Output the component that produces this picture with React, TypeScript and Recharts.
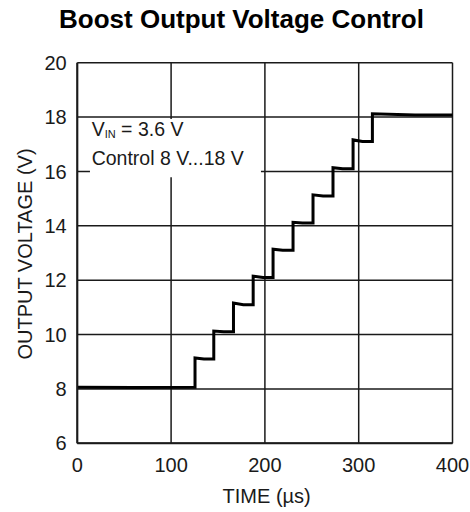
import React from "react";
import {
  LineChart,
  Line,
  XAxis,
  YAxis,
  CartesianGrid,
  ReferenceArea,
} from "recharts";

const timeUs = [
  0, 60, 125.5, 125.5, 135, 145.5, 145.5, 156, 166.5, 166.5, 177, 187.5, 187.5,
  198, 208.7, 208.7, 219, 230, 230, 240, 251.3, 251.3, 262, 272.6, 272.6, 283,
  294, 294, 304, 314.6, 314.6, 360, 400,
];
const outputV = [
  8.06, 8.05, 8.06, 9.14, 9.1, 9.1, 10.13, 10.1, 10.1, 11.16, 11.1, 11.1,
  12.15, 12.1, 12.1, 13.14, 13.1, 13.1, 14.13, 14.1, 14.1, 15.14, 15.1, 15.1,
  16.14, 16.1, 16.1, 17.16, 17.1, 17.1, 18.12, 18.08, 18.08,
];
const xTicks = [0, 100, 200, 300, 400];
const yTicks = [6, 8, 10, 12, 14, 16, 18, 20];

const title = "Boost Output Voltage Control";
const xTitle = "TIME (µs)";
const yTitle = "OUTPUT VOLTAGE (V)";
const noteLine2 = "Control 8 V...18 V";

const data = timeUs.map((t, i) => ({ t, v: outputV[i] }));

const FONT = "'Liberation Sans', Arial, Helvetica, sans-serif";
const INK = "#1a1a1a";

const NoteLabel = (props: any) => {
  const vb = props.viewBox || {};
  const x = (vb.x ?? 0) + 1.7;
  const y = vb.y ?? 0;
  return (
    <g fontFamily={FONT} fill={INK}>
      <text x={x} y={y + 17} fontSize={19.5}>
        V
        <tspan fontSize={11} dy={2}>
          IN
        </tspan>
        <tspan dy={-2}> = 3.6 V</tspan>
      </text>
      <text x={x} y={y + 46} fontSize={19.5}>
        {noteLine2}
      </text>
    </g>
  );
};

export default function App() {
  return (
    <div
      style={{
        position: "absolute",
        left: 0,
        top: 0,
        width: 470,
        height: 512,
        background: "#fff",
      }}
    >
      <LineChart
        width={470}
        height={512}
        data={data}
        margin={{ top: 62.7, right: 17.5, bottom: 0, left: 0 }}
      >
        <CartesianGrid stroke={INK} strokeWidth={1.5} />
        <XAxis
          dataKey="t"
          type="number"
          domain={[0, 400]}
          ticks={xTicks}
          height={68.7}
          tickLine={false}
          tickSize={6}
          tickMargin={8.5}
          axisLine={{ stroke: INK, strokeWidth: 2 }}
          tick={{ fill: INK, fontSize: 20, fontFamily: FONT }}
          interval={0}
        />
        <YAxis
          type="number"
          domain={[6, 20]}
          ticks={yTicks}
          width={77.3}
          tickLine={false}
          tickSize={6}
          tickMargin={4.6}
          axisLine={{ stroke: INK, strokeWidth: 2 }}
          tick={{ fill: INK, fontSize: 20, fontFamily: FONT }}
          interval={0}
        />
        <ReferenceArea
          x1={13.5}
          x2={195.8}
          y1={15.79}
          y2={17.93}
          fill="#ffffff"
          fillOpacity={1}
          stroke="none"
          label={<NoteLabel />}
        />
        <Line
          dataKey="v"
          type="linear"
          stroke="#000"
          strokeWidth={3}
          dot={false}
          isAnimationActive={false}
        />
      </LineChart>
      <svg
        width={470}
        height={512}
        style={{ position: "absolute", left: 0, top: 0, pointerEvents: "none" }}
      >
        <text
          x={241.5}
          y={27.7}
          textAnchor="middle"
          fontFamily={FONT}
          fontWeight="bold"
          fontSize={26}
          fill="#000"
        >
          {title}
        </text>
        <text
          x={266.7}
          y={503}
          textAnchor="middle"
          fontFamily={FONT}
          fontSize={20}
          fill={INK}
        >
          {xTitle}
        </text>
        <text
          x={31.5}
          y={254}
          textAnchor="middle"
          fontFamily={FONT}
          fontSize={20}
          fill={INK}
          transform="rotate(-90 31.5 254)"
        >
          {yTitle}
        </text>
      </svg>
    </div>
  );
}
